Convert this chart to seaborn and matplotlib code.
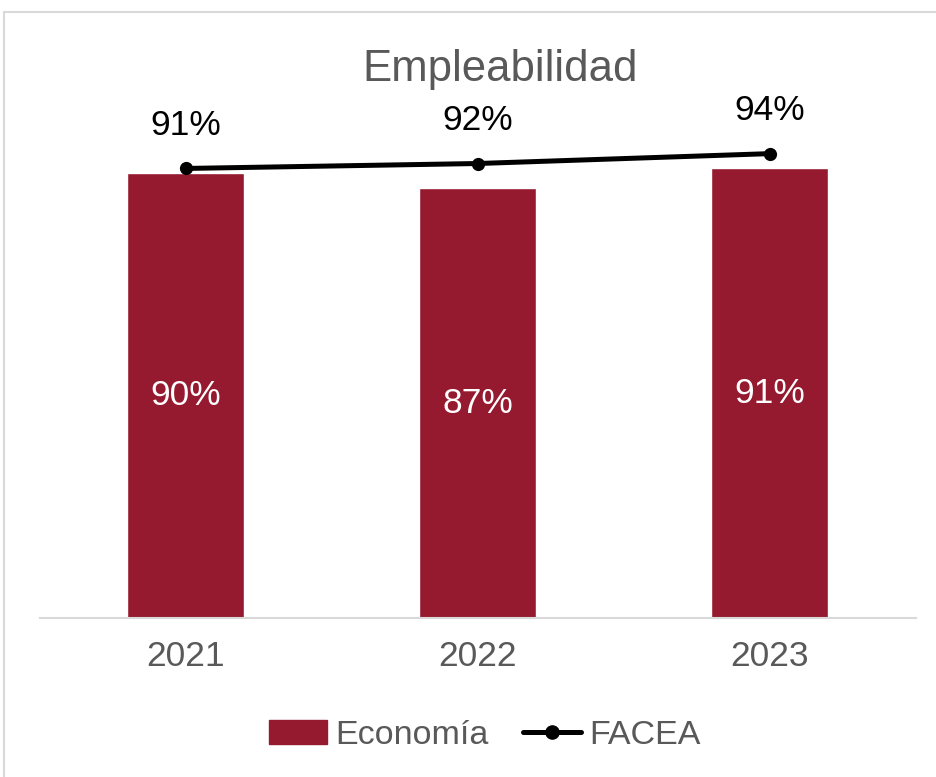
import matplotlib
matplotlib.use("Agg")
import matplotlib.pyplot as plt
import matplotlib.patches as mpatches
from matplotlib.lines import Line2D
import seaborn as sns
import pandas as pd

# data
years = ["2021", "2022", "2023"]
economia = [90, 87, 91]
facea = [91, 92, 94]

df = pd.DataFrame({"year": years, "Economía": economia, "FACEA": facea})

sns.set_style("white")
plt.rcParams["font.family"] = ["Liberation Sans", "DejaVu Sans"]

bar_color = "#951A2F"
gray = "#595959"

fig = plt.figure(figsize=(9.36, 7.77), dpi=100)
ax = fig.add_axes([39.5/936, 1-618/777, (915.5-39.5)/936, (618-124)/777])

sns.barplot(data=df, x="year", y="Economía", color=bar_color, width=0.4,
            saturation=1, ax=ax)
sns.lineplot(data=df, x="year", y="FACEA", color="black", linewidth=3.6,
             marker="o", markersize=9.5, markeredgewidth=0, ax=ax, sort=False)

ax.set_ylim(0, 100)
ax.set_xlim(-0.5, 2.5)
ax.set_xlabel("")
ax.set_ylabel("")
ax.set_yticks([])
for s in ["top", "right", "left"]:
    ax.spines[s].set_visible(False)
ax.spines["bottom"].set_color("#D9D9D9")
ax.spines["bottom"].set_linewidth(1.5)
ax.tick_params(axis="x", length=0, pad=16, labelsize=25.5, labelcolor=gray)

# labels inside bars
for i, v in enumerate(economia):
    ax.text(i, v/2, f"{v}%", ha="center", va="center", color="white", fontsize=25.5)
# labels above line
for i, v in enumerate(facea):
    ax.annotate(f"{v}%", (i, v), xytext=(0, 31), textcoords="offset points",
                ha="center", va="center", fontsize=25.5, color="black",
                annotation_clip=False)

fig.text(500/936, 1-70/777, "Empleabilidad", ha="center", va="center",
         fontsize=31.5, color=gray)

handles = [mpatches.Patch(color=bar_color, label="Economía"),
           Line2D([0], [0], color="black", linewidth=3.6, marker="o",
                  markersize=9.5, label="FACEA")]
leg = fig.legend(handles=handles, loc="center", bbox_to_anchor=(485/936, 1-735/777),
                 ncol=2, frameon=False, fontsize=24.5, handlelength=1.7,
                 handletextpad=0.25, columnspacing=1.0)
for t in leg.get_texts():
    t.set_color(gray)

# chart border
fig.patches.append(mpatches.Rectangle((4/936, -0.01), 1.1, 1-12/777+0.01,
                                      transform=fig.transFigure, fill=False,
                                      edgecolor="#D9D9D9", linewidth=1.5))

fig.savefig("out.png", dpi=100)
